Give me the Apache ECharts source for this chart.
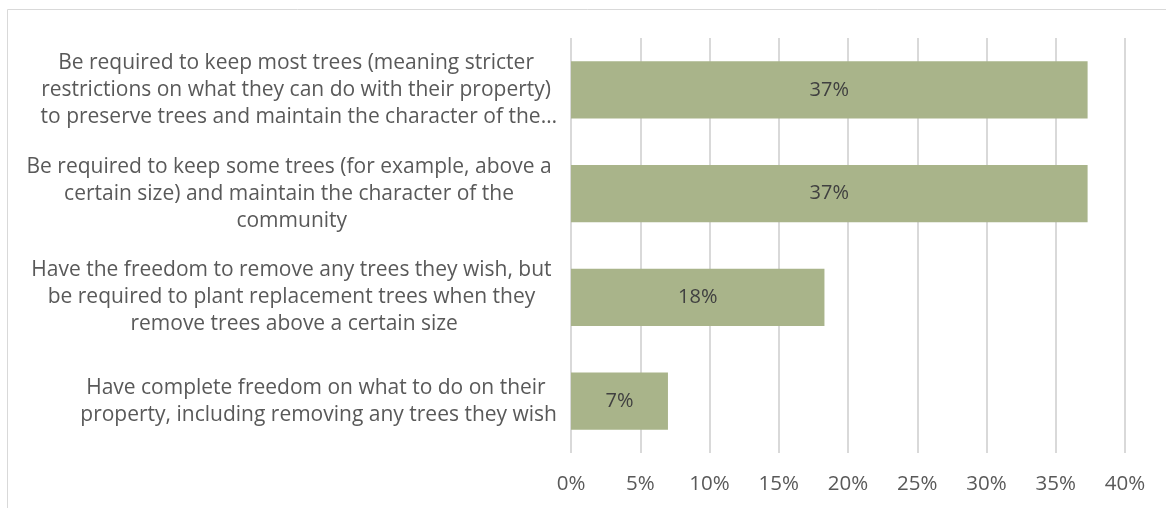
<!DOCTYPE html>
<html>
<head>
<meta charset="utf-8">
<script src="https://cdn.jsdelivr.net/npm/echarts@6/dist/echarts.min.js"></script>
<style>
  html, body { margin: 0; padding: 0; background: #fff; }
  #main { width: 1166px; height: 508px; }
</style>
</head>
<body>
<div id="main"></div>
<script>
// answer options, top to bottom, wrapped the way the original shows them
// (wrapped lines keep their trailing space, like the original does)
var categories = [
    'Be required to keep most trees (meaning stricter \nrestrictions on what they can do with their property) \nto preserve trees and maintain the character of the\u2026',
    'Be required to keep some trees (for example, above a \ncertain size) and maintain the character of the \ncommunity',
    'Have the freedom to remove any trees they wish, but \nbe required to plant replacement trees when they \nremove trees above a certain size',
    'Have complete freedom on what to do on their \nproperty, including removing any trees they wish'
];
// share of respondents, percent
var values = [37.3, 37.3, 18.3, 7.0];
var xTicks = [0, 5, 10, 15, 20, 25, 30, 35, 40];

var font = 'Open Sans';
var chart = echarts.init(document.getElementById('main'));

chart.setOption({
    animation: false,
    graphic: [{
        type: 'rect',
        shape: { x: 7.5, y: 9.5, width: 1300, height: 700 },
        style: { fill: 'none', stroke: '#d9d9d9', lineWidth: 1 },
        silent: true
    }],
    grid: { left: 571, right: 41, top: 38, bottom: 55 },
    xAxis: {
        type: 'value',
        min: xTicks[0],
        max: xTicks[xTicks.length - 1],
        interval: 5,
        axisLine: { show: false },
        axisTick: { show: false },
        splitLine: { lineStyle: { color: '#d9d9d9', width: 2 } },
        axisLabel: {
            color: '#595959',
            fontFamily: font,
            fontSize: 20.5,
            margin: 21,
            formatter: function (v) { return v + '%'; }
        }
    },
    yAxis: {
        type: 'category',
        inverse: true,
        data: categories,
        axisLine: { show: false },
        axisTick: { show: false },
        axisLabel: {
            align: 'right',
            margin: 14,
            lineHeight: 27,
            formatter: function (v) {
                return v.split('\n').map(function (s) { return '{c|' + s + '}'; }).join('\n');
            },
            rich: {
                c: {
                    align: 'center',
                    color: '#595959',
                    fontFamily: font,
                    fontSize: 21,
                    lineHeight: 27
                }
            }
        }
    },
    series: [{
        type: 'bar',
        data: values,
        barCategoryGap: '45%',
        itemStyle: { color: '#a9b48a' },
        label: {
            show: true,
            position: 'inside',
            color: '#404040',
            fontFamily: font,
            fontSize: 20,
            formatter: function (p) { return Math.round(p.value) + '%'; }
        }
    }]
});
</script>
</body>
</html>
